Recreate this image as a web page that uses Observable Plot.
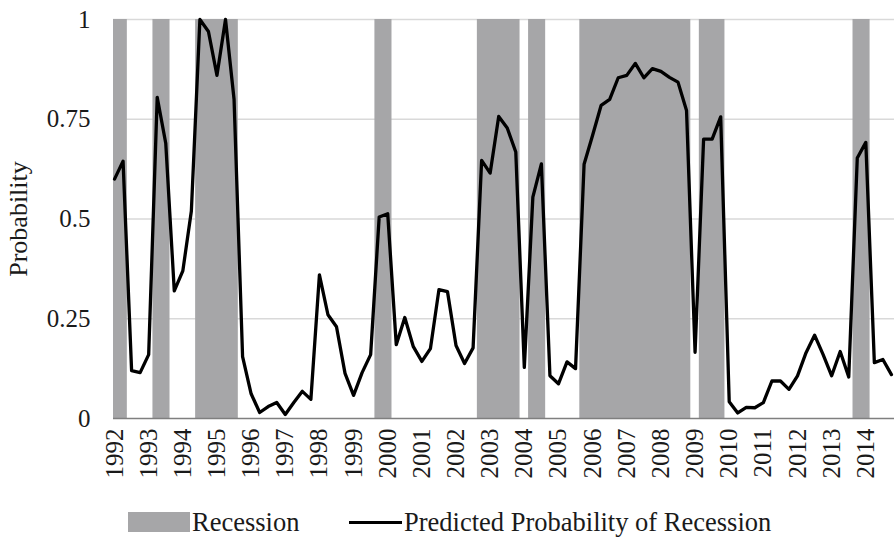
<!DOCTYPE html>
<html><head><meta charset="utf-8">
<script src="https://cdn.jsdelivr.net/npm/d3@7"></script>
<script src="https://cdn.jsdelivr.net/npm/@observablehq/plot@0.6"></script>
<style>
body{margin:0;background:#fff;font-family:"Liberation Serif","Times New Roman","DejaVu Serif",serif;}
#wrap{position:relative;width:894px;height:544px;overflow:hidden;}
#legend{position:absolute;left:0;top:0;width:894px;height:544px;pointer-events:none;color:#1a1a1a;}
.sw{position:absolute;left:128px;top:512px;width:62px;height:20px;background:#a6a6a8;}
.ln{position:absolute;left:349px;top:520.5px;width:53px;height:3px;background:#000;}
.lt{position:absolute;font-size:26.5px;line-height:26px;top:509px;white-space:nowrap;}
</style></head><body>
<div id="wrap"><div id="chart"></div>
<div id="legend">
  <div class="sw"></div><div class="lt" style="left:192px">Recession</div>
  <div class="ln"></div><div class="lt" style="left:404px">Predicted Probability of Recession</div>
</div></div>
<script>
// Tick labels (years) on the x axis
const years = d3.range(1992, 2015);
const startYear = 1992; // first quarter is 1992Q1, quarterly data through 2014Q4

// Predicted probability of recession, quarterly (1992Q1 ... 2014Q4)
const probability = [
  0.60, 0.645, 0.12, 0.115,   // 1992
  0.16, 0.805, 0.69, 0.32,    // 1993
  0.37, 0.52, 1.0, 0.97,      // 1994
  0.86, 1.0, 0.80, 0.155,     // 1995
  0.062, 0.015, 0.03, 0.04,   // 1996
  0.01, 0.04, 0.068, 0.048,   // 1997
  0.36, 0.26, 0.23, 0.113,    // 1998
  0.058, 0.115, 0.16, 0.505,  // 1999
  0.513, 0.185, 0.253, 0.18,  // 2000
  0.143, 0.175, 0.323, 0.318, // 2001
  0.183, 0.138, 0.177, 0.647, // 2002
  0.615, 0.757, 0.728, 0.668, // 2003
  0.128, 0.555, 0.638, 0.107, // 2004
  0.087, 0.142, 0.125, 0.637, // 2005
  0.71, 0.785, 0.80, 0.854,   // 2006
  0.86, 0.89, 0.854, 0.877,   // 2007
  0.87, 0.855, 0.843, 0.772,  // 2008
  0.166, 0.70, 0.70, 0.756,   // 2009
  0.042, 0.014, 0.028, 0.027, // 2010
  0.04, 0.094, 0.094, 0.073,  // 2011
  0.107, 0.165, 0.209, 0.16,  // 2012
  0.107, 0.168, 0.104, 0.653, // 2013
  0.692, 0.14, 0.148, 0.11    // 2014
];

// Recession indicator, quarterly (1 = recession)
const recession = [
  1,1,0,0, 0,1,1,0, 0,0,1,1, 1,1,1,0, // 1992-1995
  0,0,0,0, 0,0,0,0, 0,0,0,0, 0,0,0,1, // 1996-1999
  1,0,0,0, 0,0,0,0, 0,0,0,1, 1,1,1,1, // 2000-2003
  0,1,1,0, 0,0,0,1, 1,1,1,1, 1,1,1,1, // 2004-2007
  1,1,1,1, 0,1,1,1, 0,0,0,0, 0,0,0,0, // 2008-2011
  0,0,0,0, 0,0,0,1, 1,0,0,0           // 2012-2014
];

const yTicks = [0, 0.25, 0.5, 0.75, 1];
const yTitle = "Probability";

const series = probability.map((p, i) => ({t: startYear + i / 4, p}));

// merge consecutive recession quarters into bands
const bands = [];
recession.forEach((r, i) => {
  if (!r) return;
  const t = startYear + i / 4;
  const last = bands[bands.length - 1];
  if (last && last.end === i - 1) { last.end = i; last.x2 = t + 0.125; }
  else bands.push({start: i, end: i, x1: t - 0.125, x2: t + 0.125});
});

const chart = Plot.plot({
  width: 894,
  height: 490,
  marginLeft: 113,
  marginRight: 0,
  marginTop: 19,
  marginBottom: 72,
  style: {fontFamily: "'Liberation Serif','Times New Roman','DejaVu Serif',serif", color: "#1a1a1a", background: "white"},
  x: {domain: [1991.97, 2014.84]},
  y: {domain: [0, 1]},
  marks: [
    Plot.ruleY(yTicks.filter(d => d > 0), {stroke: "#d9d9d9", strokeWidth: 1.5}),
    Plot.rect(bands, {x1: "x1", x2: "x2", y1: () => 0, y2: () => 1, fill: "#a6a6a8", clip: true}),
    Plot.ruleY([0], {stroke: "#7f7f7f", strokeWidth: 1.5}),
    Plot.line(series, {x: "t", y: "p", stroke: "#000", strokeWidth: 3.3}),
    Plot.axisY({ticks: yTicks, tickFormat: d => String(d), tickSize: 0, tickPadding: 23, fontSize: 25, label: null}),
    Plot.axisX({ticks: years, tickFormat: d => String(d), tickRotate: -90, tickSize: 0, tickPadding: 10, fontSize: 25, label: null}),
    Plot.text([yTitle], {frameAnchor: "left", dx: -95, rotate: -90, textAnchor: "middle", text: d => d, fontSize: 26, fill: "#1a1a1a"})
  ]
});
document.getElementById("chart").appendChild(chart);
</script>
</body></html>
